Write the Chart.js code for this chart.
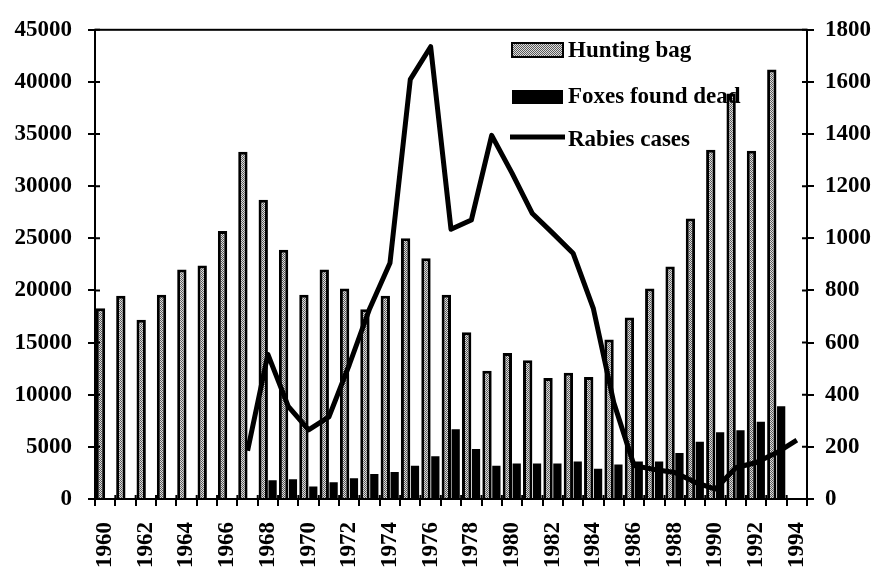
<!DOCTYPE html>
<html>
<head>
<meta charset="utf-8">
<script src="https://cdn.jsdelivr.net/npm/chart.js@4/dist/chart.umd.min.js"></script>
<style>
  html, body { margin: 0; padding: 0; background: #fff; }
  #wrap { width: 877px; height: 570px; position: relative; }
</style>
</head>
<body>
<div id="wrap"><canvas id="c" width="877" height="570"></canvas></div>
<script>
const years = ['1960','1961','1962','1963','1964','1965','1966','1967','1968','1969',
  '1970','1971','1972','1973','1974','1975','1976','1977','1978','1979',
  '1980','1981','1982','1983','1984','1985','1986','1987','1988','1989',
  '1990','1991','1992','1993','1994'];

const huntingBag = [18300,19500,17200,19600,22000,22400,25700,33300,28700,23900,
  19600,22000,20200,18200,19500,25000,23100,19600,16000,12300,
  14000,13300,11600,12100,11700,15300,17400,20200,22300,26900,
  33500,38900,33400,41200,null];

const foxesFoundDead = [null,null,null,null,null,null,null,null,1800,1900,
  1200,1600,2000,2400,2600,3200,4100,6700,4800,3200,
  3400,3400,3400,3600,2900,3300,3600,3600,4400,5500,
  6400,6600,7400,8900,null];

const rabiesCases = [null,null,null,null,null,null,null,185,555,355,
  265,315,515,730,905,1610,1735,1035,1070,1395,
  1250,1095,1020,943,730,370,128,113,102,64,
  38,120,140,177,226];

const leftTicks = { min: 0, max: 45000, step: 5000 };
const rightTicks = { min: 0, max: 1800, step: 200 };

const FONT = "'Liberation Serif', 'Times New Roman', serif";
const FSIZE = 23;

function makePattern() {
  const p = document.createElement('canvas');
  p.width = 4; p.height = 4;
  const g = p.getContext('2d');
  g.fillStyle = '#dcdcdc';
  g.fillRect(0, 0, 4, 4);
  g.fillStyle = '#5a5a5a';
  for (let y = 0; y < 4; y++) {
    for (let x = 0; x < 4; x++) {
      if ((x + y) % 2 === 0) g.fillRect(x, y, 1, 1);
    }
  }
  return document.getElementById('c').getContext('2d').createPattern(p, 'repeat');
}
const pattern = makePattern();

const framePlugin = {
  id: 'frame',
  afterDatasetsDraw(chart) {
    const { ctx, chartArea: a, scales } = chart;
    ctx.save();
    ctx.strokeStyle = '#000';
    ctx.lineWidth = 2;
    ctx.strokeRect(a.left, a.top, a.right - a.left, a.bottom - a.top);
    ctx.beginPath();
    scales.y.ticks.forEach(t => {
      const py = scales.y.getPixelForValue(t.value);
      ctx.moveTo(a.left, py); ctx.lineTo(a.left + 5, py);
    });
    scales.y1.ticks.forEach(t => {
      const py = scales.y1.getPixelForValue(t.value);
      ctx.moveTo(a.right - 5, py); ctx.lineTo(a.right, py);
    });
    for (let i = 0; i <= years.length; i++) {
      const px = scales.x.getPixelForValue(i - 0.5);
      ctx.moveTo(px, a.bottom); ctx.lineTo(px, a.bottom - 4);
    }
    ctx.stroke();
    ctx.restore();
  },
  afterDraw(chart) {
    const { ctx } = chart;
    const ds = chart.data.datasets;
    ctx.save();
    ctx.font = 'bold ' + FSIZE + 'px ' + FONT;
    ctx.fillStyle = '#000';
    ctx.textBaseline = 'middle';
    const px = 512, pw = 51, tx = 568;
    ctx.fillStyle = ds[0].backgroundColor;
    ctx.fillRect(px, 43, pw, 14);
    ctx.strokeStyle = '#000'; ctx.lineWidth = 2;
    ctx.strokeRect(px, 43, pw, 14);
    ctx.fillStyle = '#000';
    ctx.fillText(ds[0].label, tx, 51);
    ctx.fillStyle = ds[1].backgroundColor;
    ctx.fillRect(px, 90, pw, 14);
    ctx.fillStyle = '#000';
    ctx.fillText(ds[1].label, tx, 97);
    ctx.strokeStyle = ds[2].borderColor;
    ctx.lineWidth = 5;
    ctx.beginPath(); ctx.moveTo(px - 2, 137); ctx.lineTo(px + pw + 2, 137); ctx.stroke();
    ctx.fillText(ds[2].label, tx, 140);
    ctx.restore();
  }
};

const plain = v => String(v);

new Chart(document.getElementById('c'), {
  type: 'bar',
  data: {
    labels: years,
    datasets: [
      {
        type: 'bar', label: 'Hunting bag', data: huntingBag, yAxisID: 'y',
        backgroundColor: pattern, borderColor: '#000', borderWidth: 3,
        categoryPercentage: 0.92, barPercentage: 1.0, order: 2
      },
      {
        type: 'bar', label: 'Foxes found dead', data: foxesFoundDead, yAxisID: 'y',
        backgroundColor: '#000', borderColor: '#000', borderWidth: 0,
        categoryPercentage: 0.92, barPercentage: 0.88, order: 2
      },
      {
        type: 'line', label: 'Rabies cases', data: rabiesCases, yAxisID: 'y1',
        borderColor: '#000', borderWidth: 5, pointRadius: 0, tension: 0,
        fill: false, spanGaps: false, order: 1, borderJoinStyle: 'round'
      }
    ]
  },
  options: {
    responsive: false,
    animation: false,
    layout: { padding: { top: 22, left: 0, right: 0, bottom: 0 } },
    plugins: { legend: { display: false }, tooltip: { enabled: false } },
    scales: {
      x: {
        offset: true,
        grid: { display: true, drawOnChartArea: false, offset: true, tickLength: 7, color: '#000', lineWidth: 2 },
        border: { display: true, color: '#000', width: 2 },
        ticks: {
          autoSkip: false, maxRotation: 90, minRotation: 90, padding: 16,
          color: '#000', font: { family: FONT, size: FSIZE, weight: 'bold' },
          callback: function(v, i) { return i % 2 === 0 ? years[i] : ''; }
        },
        afterFit(s) { s.height = 71; }
      },
      y: {
        position: 'left', min: leftTicks.min, max: leftTicks.max,
        grid: { display: true, drawOnChartArea: false, tickLength: 7, color: '#000', lineWidth: 2 },
        border: { display: true, color: '#000', width: 2 },
        ticks: {
          stepSize: leftTicks.step, padding: 16, color: '#000', callback: plain,
          font: { family: FONT, size: FSIZE, weight: 'bold' }
        },
        afterFit(s) { s.width = 95; }
      },
      y1: {
        position: 'right', min: rightTicks.min, max: rightTicks.max,
        grid: { display: true, drawOnChartArea: false, tickLength: 7, color: '#000', lineWidth: 2 },
        border: { display: true, color: '#000', width: 2 },
        ticks: {
          stepSize: rightTicks.step, padding: 11, color: '#000', callback: plain,
          font: { family: FONT, size: FSIZE, weight: 'bold' }
        },
        afterFit(s) { s.width = 70; }
      }
    }
  },
  plugins: [framePlugin]
});
</script>
</body>
</html>
